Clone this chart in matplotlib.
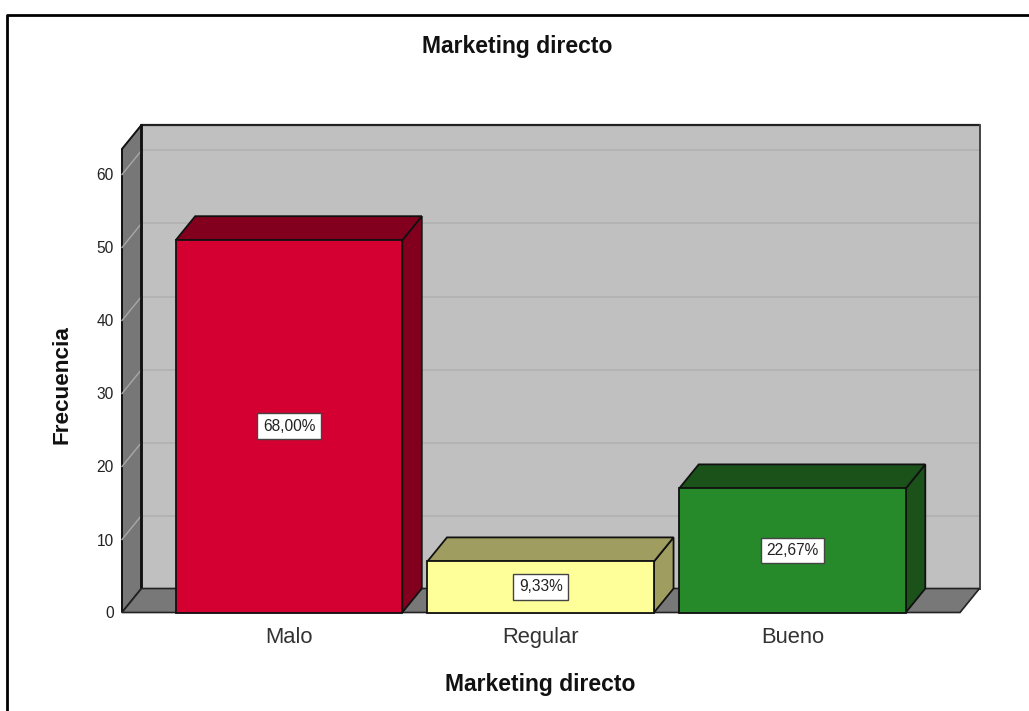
import matplotlib
matplotlib.use("Agg")
import matplotlib.pyplot as plt
from matplotlib.patches import Polygon
from matplotlib.lines import Line2D

# ---- data ----
categories = ["Malo", "Regular", "Bueno"]
frequencies = [51, 7, 17]
percent_labels = ["68,00%", "9,33%", "22,67%"]
yticks = [0, 10, 20, 30, 40, 50, 60]
title = "Marketing directo"
xlabel = "Marketing directo"
ylabel = "Frecuencia"

front_colors = ["#d50032", "#ffff99", "#278a2a"]
shade_colors = ["#82001e", "#9f9e60", "#1a5219"]

plt.rcParams['font.family'] = ['Liberation Sans', 'DejaVu Sans']

W, H = 1029, 711
fig = plt.figure(figsize=(W / 100, H / 100), dpi=100)
fig.patch.set_facecolor("white")

# ---- plot geometry (pixel layout of the front plane) ----
cat_px = 251.75          # pixels between category centres
unit_px = 7.3            # pixels per frequency unit
first_center_px = 289.0
front_left_px, front_right_px = 122.0, 960.0
zero_px = 612.5
depth_dx_px, depth_dy_px = 19.5, 24.0
wall_top = 63.5          # height of the side wall at the front edge (data units)

DX = depth_dx_px / cat_px
DY = depth_dy_px / unit_px
x0 = (front_left_px - first_center_px) / cat_px
x1 = (front_right_px - first_center_px) / cat_px
xmax = x1 + DX
ymax = wall_top + DY

ax_left_px = front_left_px
ax_right_px = front_left_px + (xmax - x0) * cat_px
ax_top_px = zero_px - ymax * unit_px
ax = fig.add_axes([ax_left_px / W, 1 - zero_px / H,
                   (ax_right_px - ax_left_px) / W, (zero_px - ax_top_px) / H])
ax.set_xlim(x0, xmax)
ax.set_ylim(0, ymax)
for s in ax.spines.values():
    s.set_visible(False)
ax.patch.set_visible(False)

# back wall
ax.add_patch(Polygon([(x0 + DX, DY), (xmax, DY), (xmax, ymax), (x0 + DX, ymax)],
                     closed=True, fc="#c0c0c0", ec="none", zorder=1, clip_on=False))
for t in yticks[1:]:
    ax.plot([x0 + DX, xmax], [t + DY, t + DY], color="#b0b0b0", lw=1.1, zorder=2,
            clip_on=False)
ax.plot([x0 + DX, xmax], [ymax, ymax], color="#222222", lw=1.6, zorder=3,
        clip_on=False, solid_capstyle="butt")
ax.plot([xmax, xmax], [DY, ymax], color="#444444", lw=1.4, zorder=3, clip_on=False)

# left side wall
ax.add_patch(Polygon([(x0, 0), (x0 + DX, DY), (x0 + DX, ymax), (x0, wall_top)],
                     closed=True, fc="#777777", ec="#111111", lw=1.4, zorder=4,
                     clip_on=False, joinstyle="miter"))
for t in yticks[1:]:
    ax.plot([x0, x0 + DX], [t, t + DY], color="#a8a8a8", lw=1.0, zorder=5,
            clip_on=False)
ax.plot([x0 + DX, x0 + DX], [DY, ymax], color="#111111", lw=2.0, zorder=5,
        clip_on=False)

# floor
ax.add_patch(Polygon([(x0, 0), (x1, 0), (xmax, DY), (x0 + DX, DY)],
                     closed=True, fc="#787878", ec="#222222", lw=1.2, zorder=6,
                     clip_on=False, joinstyle="miter"))

# 3D bars
bar_w = 0.9
for i, (v, fc, sc, lab) in enumerate(zip(frequencies, front_colors,
                                         shade_colors, percent_labels)):
    l, r = i - bar_w / 2, i + bar_w / 2
    side = [(r, 0), (r + DX, DY), (r + DX, v + DY), (r, v)]
    top = [(l, v), (r, v), (r + DX, v + DY), (l + DX, v + DY)]
    front = [(l, 0), (r, 0), (r, v), (l, v)]
    for pts, c in ((side, sc), (top, sc), (front, fc)):
        ax.add_patch(Polygon(pts, closed=True, fc=c, ec="#111111", lw=1.3,
                             zorder=10, joinstyle="miter", clip_on=False))
    ax.text(i, v / 2, lab, ha="center", va="center", fontsize=11.2, color="#222222",
            zorder=12,
            bbox=dict(boxstyle="square,pad=0.35", fc="white", ec="#444444", lw=1.0))

# axes ticks
ax.set_yticks(yticks)
ax.set_yticklabels([str(t) for t in yticks])
ax.set_xticks(range(len(categories)))
ax.set_xticklabels(categories)
ax.tick_params(axis="y", length=0, pad=6, labelsize=11.2, labelcolor="#222222")
ax.tick_params(axis="x", length=0, pad=10.5, labelsize=15.8, labelcolor="#333333")

# titles
fig.text(517 / W, 1 - 47 / H, title, ha="center", va="center",
         fontsize=16.5, fontweight="bold", color="#111111")
fig.text(540 / W, 1 - 684 / H, xlabel, ha="center", va="center",
         fontsize=16.5, fontweight="bold", color="#111111")
fig.text(62 / W, 1 - 385 / H, ylabel, ha="center", va="center", rotation=90,
         fontsize=16.2, fontweight="bold", color="#111111")

# outer frame (top and left edges)
fig.add_artist(Line2D([7 / W, 7 / W, 1.0], [0, 1 - 14.5 / H, 1 - 14.5 / H],
                      color="black", lw=2.0, transform=fig.transFigure))

fig.savefig("out.png", dpi=100)
